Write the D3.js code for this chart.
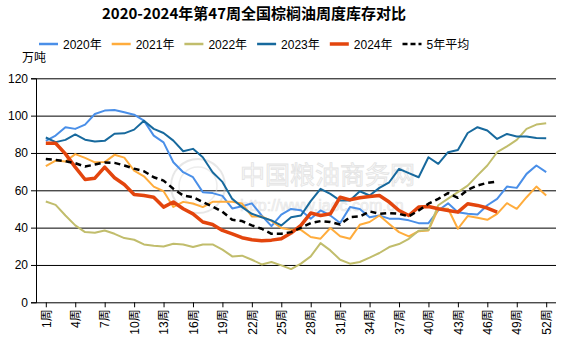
<!DOCTYPE html>
<html><head><meta charset="utf-8">
<script src="https://cdn.jsdelivr.net/npm/d3@7"></script>
<style>
html,body{margin:0;padding:0;background:#fff;}
svg{display:block;font-family:Arial,"Liberation Sans","Noto Sans CJK SC",sans-serif;}
</style></head>
<body><svg id="c" width="561" height="340"></svg>
<script>
const weeks = ["1周","2周","3周","4周","5周","6周","7周","8周","9周","10周","11周","12周","13周","14周","15周","16周","17周","18周","19周","20周","21周","22周","23周","24周","25周","26周","27周","28周","29周","30周","31周","32周","33周","34周","35周","36周","37周","38周","39周","40周","41周","42周","43周","44周","45周","46周","47周","48周","49周","50周","51周","52周"];
const tickWeeks = ["1周","4周","7周","10周","13周","16周","19周","22周","25周","28周","31周","34周","37周","40周","43周","46周","49周","52周"];
const yTicks = [0,20,40,60,80,100,120];
const seriesNames = ["2020年","2021年","2022年","2023年","2024年","5年平均"];
const seriesColors = ["#4a8fe8","#ffac3c","#c1bd6c","#17699d","#e3450d","#000000"];
const v2020 = [86.5,89.3,93.8,92.9,95.2,100.9,102.7,103,101.8,100.5,97.3,89.3,85.7,75,69.7,67,59,58.5,57,50.3,51.5,53,46.5,40.8,47,50,49.3,44.8,49.2,46.5,42.5,51,50,45.6,46.5,44.8,44.7,43.9,42.4,42.4,49.2,53,48.3,47.4,47,52,55.4,62,61.3,68.8,73.3,69.7];
const v2021 = [72.9,75.9,75.4,79.4,77.4,75,75.1,79,77.5,70.5,67.5,62,59.5,51.1,53.8,52.9,51,53.8,53.8,53.8,52.9,46,46,43.6,39.8,38.8,38.8,35,34.1,39.8,35.4,34,41.5,43,46.5,42,37.6,35.3,38.1,38.5,50.1,50.1,39.4,46.2,45.3,44.2,47.4,53.1,50.1,56.3,62,57.2];
const v2022 = [54,52.2,46.5,41.2,37.6,37.3,38.5,36.7,34.4,33.5,31,30.3,29.9,31.4,31,29.6,31,31,28.2,24.6,25,22.8,20.3,21.6,19.8,17.8,20.7,24.6,31.7,27.8,22.8,20.7,21.6,23.9,26.4,29.6,31.2,34,38.3,38.7,52,55.5,59,62.5,68,73.3,80.4,83.5,87,92.9,95.2,95.9];
const v2023 = [88.3,85.8,87,89.9,87.1,86.2,86.5,90.3,90.5,92.5,97.3,92.9,90.7,86.6,80.9,82.2,77.7,69.7,64.5,55.4,51,47.4,45.6,43.9,41.2,45.6,46.5,54.2,60.8,58.1,54.5,54.5,59.5,57.2,61.3,64.3,71.5,69.2,67,77.7,74.2,80.4,81.6,90.7,93.8,92,87.5,90.2,88.8,88.8,88,87.9];
const v2024 = [85.2,85.2,79.5,72.4,65.8,66.5,72.4,66.7,63.1,57.8,57.2,56.3,51,53.7,50.1,47.4,43,41.7,38.5,36.7,34.6,33.5,33,33.3,34,37.1,41.2,47.8,46.5,47.4,56.3,54.9,56,56.7,57.2,53.7,49.2,46.5,51,51.3,50.1,49.2,48.3,52.8,51.9,50.5,48.3];
const vAvg = [76.8,76.3,75.6,74.5,72.7,73.8,74.9,74.7,73.3,71.6,70.2,67,65.2,60.8,57.2,56.3,53.7,51.3,48.5,44.2,43.5,41.2,39.4,36.7,36.7,37.6,39.9,42.4,43.5,43,41.7,45.6,46,48.7,47.4,47.8,47.4,46,49.2,52.8,55.4,58.5,56,60.3,62.6,64,64.7];

const allSeries = [v2020,v2021,v2022,v2023,v2024,vAvg];
const widths = [2,2,2,2,3.5,2.5];

const svg = d3.select("#c");
const pL = 36, pR = 556, pT = 78.3, pB = 302.3;
const x = d3.scalePoint().domain(weeks).range([pL,pR]).padding(1);
const y = d3.scaleLinear().domain([0,120]).range([pB,pT]);

// title
svg.append("text").attr("x",254).attr("y",19).attr("text-anchor","middle")
  .attr("font-family","'Noto Sans CJK SC',sans-serif").attr("font-weight","bold")
  .attr("font-size",15).attr("fill","#000").text("2020-2024年第47周全国棕榈油周度库存对比");

// unit
svg.append("text").attr("x",22).attr("y",62).attr("font-size",12)
  .attr("font-family","'Noto Sans CJK SC',sans-serif").attr("fill","#000").text("万吨");

// gridlines
svg.append("g").selectAll("line").data(yTicks.slice(1)).join("line")
  .attr("x1",pL).attr("x2",pR).attr("y1",d=>y(d)+0.5).attr("y2",d=>y(d)+0.5)
  .attr("stroke","#000").attr("stroke-width",1);

// watermark
const wm = svg.append("g").attr("opacity",0.5);
wm.append("circle").attr("cx",198).attr("cy",186).attr("r",27).attr("fill","none").attr("stroke","#d0d0d0").attr("stroke-width",2);
wm.append("circle").attr("cx",198).attr("cy",186).attr("r",19).attr("fill","none").attr("stroke","#dcdcdc").attr("stroke-width",1.5);
wm.append("text").attr("x",240).attr("y",184).attr("font-size",25)
  .attr("font-family","'Noto Sans CJK SC',sans-serif").attr("fill","#f2f2f2").attr("stroke","#c8c8c8").attr("stroke-width",0.8)
  .text("中国粮油商务网");
wm.append("text").attr("x",240).attr("y",211).attr("font-size",16)
  .attr("fill","#eeeeee").attr("stroke","#cccccc").attr("stroke-width",0.6).text("http://www.jaoc.com.cn");

// axes
const yAxis = svg.append("g").attr("transform",`translate(${pL},0)`)
  .call(d3.axisLeft(y).tickValues(yTicks).tickSize(5).tickPadding(3));
yAxis.selectAll("text").attr("font-size",12).attr("fill","#000").attr("font-family","Arial,'Liberation Sans',sans-serif");
yAxis.selectAll("line,path").attr("stroke","#000");

const xAxis = svg.append("g").attr("transform",`translate(0,${pB})`)
  .call(d3.axisBottom(x).tickValues(tickWeeks).tickSize(5).tickSizeOuter(0));
xAxis.select(".domain").attr("d",`M${pL},0.5H${pR}`).attr("stroke","#000");
xAxis.selectAll("line").attr("stroke","#000");
xAxis.selectAll("text").attr("font-size",12).attr("fill","#000")
  .attr("font-family","Arial,'Liberation Sans','Noto Sans CJK SC',sans-serif")
  .attr("transform","rotate(-90)").attr("text-anchor","end")
  .attr("x",-7).attr("y",0).attr("dy","0.35em");

// lines
const line = d3.line().x((d,i)=>x(weeks[i])).y(d=>y(d));
allSeries.forEach((s,k)=>{
  svg.append("path").datum(s).attr("d",line).attr("fill","none")
    .attr("stroke",seriesColors[k]).attr("stroke-width",widths[k])
    .attr("stroke-linejoin","round")
    .attr("stroke-dasharray",k===5?"6,4":null);
});

// legend
const lg = svg.append("g");
seriesNames.forEach((n,k)=>{
  const lx = 39 + k*72.7, ly = 44;
  lg.append("line").attr("x1",lx).attr("x2",lx+19).attr("y1",ly).attr("y2",ly)
    .attr("stroke",seriesColors[k]).attr("stroke-width",k===4?3.5:2.5)
    .attr("stroke-dasharray",k===5?"5,3":null);
  lg.append("text").attr("x",lx+24).attr("y",ly+4.5).attr("font-size",12)
    .attr("font-family","Arial,'Liberation Sans','Noto Sans CJK SC',sans-serif")
    .attr("fill","#000").text(n);
});
</script></body></html>
